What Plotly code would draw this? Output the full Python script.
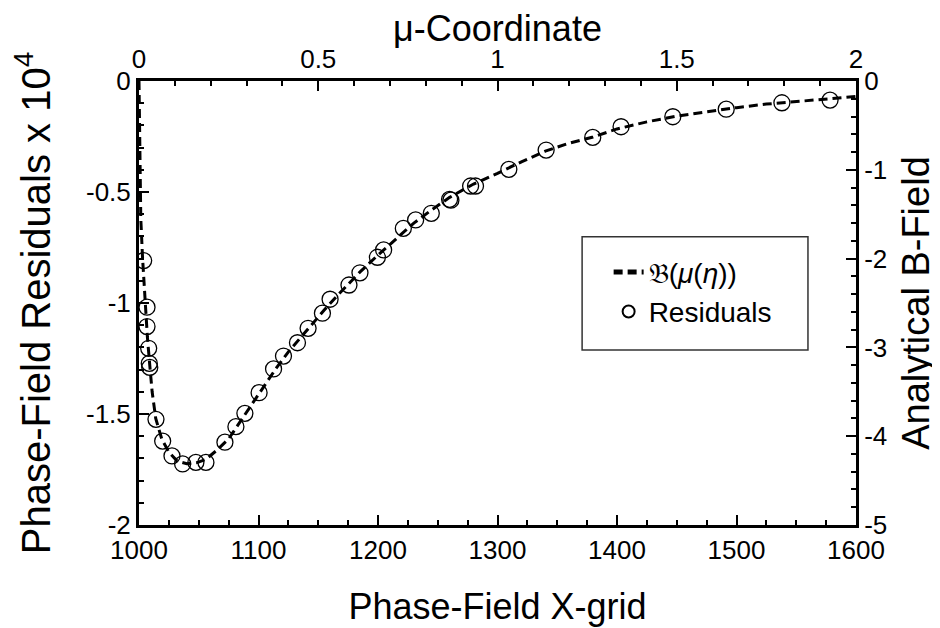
import plotly.graph_objects as go

# ---- data ----
resid_x = [1003.9, 1006.7, 1006.7, 1008.1, 1008.6, 1009.0, 1014.2, 1019.8, 1027.6, 1036.5,
           1047.6, 1056.0, 1071.9, 1081.1, 1088.6, 1100.5, 1112.6, 1120.9, 1132.6, 1141.5,
           1153.5, 1159.9, 1175.7, 1184.9, 1199.5, 1204.7, 1221.2, 1231.5, 1244.6, 1259.9,
           1261.0, 1277.5, 1281.6, 1309.5, 1340.7, 1379.7, 1403.4, 1446.7, 1491.4, 1538.0,
           1578.3]
resid_y = [-0.809, -1.019, -1.106, -1.204, -1.272, -1.29, -1.524, -1.622, -1.689, -1.725,
           -1.718, -1.718, -1.627, -1.557, -1.497, -1.404, -1.297, -1.239, -1.179, -1.114,
           -1.046, -0.983, -0.919, -0.864, -0.794, -0.761, -0.664, -0.626, -0.596, -0.533,
           -0.537, -0.473, -0.473, -0.398, -0.311, -0.254, -0.206, -0.161, -0.127, -0.098,
           -0.086]

bfield_x = [1000, 1000.5, 1001.5, 1003, 1005, 1007, 1009, 1011, 1014, 1019, 1025, 1032,
            1040, 1048, 1056, 1065, 1075, 1085, 1095, 1105, 1115, 1125, 1135, 1145, 1155,
            1165, 1175, 1185, 1200, 1215, 1230, 1245, 1260, 1280, 1300, 1320, 1340, 1360,
            1380, 1400, 1425, 1450, 1475, 1500, 1525, 1550, 1575, 1600]
bfield_y = [0.0, -0.88, -1.55, -2.0, -2.5, -2.88, -3.2, -3.5, -3.8, -4.03, -4.18, -4.28,
            -4.31, -4.3, -4.26, -4.16, -4.03, -3.83, -3.63, -3.43, -3.23, -3.05, -2.89,
            -2.73, -2.58, -2.43, -2.29, -2.15, -1.96, -1.78, -1.6, -1.45, -1.31, -1.16,
            -1.04, -0.91, -0.79, -0.7, -0.63, -0.54, -0.46, -0.395, -0.345, -0.3, -0.26,
            -0.23, -0.205, -0.175]

x_ticks = [1000, 1100, 1200, 1300, 1400, 1500, 1600]
x_ticklabels = ["1000", "1100", "1200", "1300", "1400", "1500", "1600"]
mu_ticks = [0, 0.5, 1, 1.5, 2]
mu_ticklabels = ["0", "0.5", "1", "1.5", "2"]
y_ticks = [-2, -1.5, -1, -0.5, 0]
y_ticklabels = ["-2", "-1.5", "-1", "-0.5", "0"]
b_ticks = [-5, -4, -3, -2, -1, 0]
b_ticklabels = ["-5", "-4", "-3", "-2", "-1", "0"]

FONT = "Liberation Sans, Arial, sans-serif"
TICKF = dict(family=FONT, size=26, color="black")

fig = go.Figure()

fig.add_trace(go.Scatter(
    x=bfield_x, y=bfield_y, xaxis="x", yaxis="y2", mode="lines",
    line=dict(color="black", width=3, dash="9px,5px"),
    name="𝔅(<i>μ</i>(<i>η</i>))",
))
fig.add_trace(go.Scatter(
    x=resid_x, y=resid_y, xaxis="x", yaxis="y", mode="markers",
    marker=dict(symbol="circle-open", size=16, color="black", line=dict(width=1.3, color="black")),
    name="Residuals",
))
# helper trace so the top axis is drawn
fig.add_trace(go.Scatter(x=[0, 2], y=[None, None], xaxis="x2", yaxis="y",
                         mode="markers", showlegend=False, hoverinfo="skip"))

axis_common = dict(showgrid=False, zeroline=False, showline=True, linecolor="black",
                   linewidth=3, ticks="inside", ticklen=10, tickwidth=2, tickcolor="black",
                   tickfont=TICKF, automargin=False)

fig.update_layout(
    width=940, height=628,
    margin=dict(l=131, r=92, t=73, b=111),
    paper_bgcolor="white", plot_bgcolor="white",
    font=dict(family=FONT, color="black"),
    xaxis=dict(range=[1000, 1600], tickvals=x_ticks, ticktext=x_ticklabels,
               title=dict(text="Phase-Field X-grid", font=dict(family=FONT, size=36, color="black"),
                          standoff=30),
               minor=dict(ticks="inside", ticklen=5, tickwidth=1.5, dtick=25, tick0=1000,
                          tickcolor="black"),
               **axis_common),
    xaxis2=dict(range=[0, 2], overlaying="x", side="top", anchor="y",
                tickvals=mu_ticks, ticktext=mu_ticklabels,
                title=dict(text="μ-Coordinate", font=dict(family=FONT, size=36, color="black"),
                           standoff=4),
                minor=dict(ticks="inside", ticklen=5, tickwidth=1.5, dtick=0.1, tick0=0,
                           tickcolor="black"),
                **axis_common),
    yaxis=dict(range=[-2, 0], tickvals=y_ticks, ticktext=y_ticklabels,
               title=dict(text="Phase-Field Residuals x 10<sup>4</sup>",
                          font=dict(family=FONT, size=40, color="black"), standoff=28),
               minor=dict(ticks="inside", ticklen=5, tickwidth=1.5, dtick=0.1, tick0=0,
                          tickcolor="black"),
               **axis_common),
    yaxis2=dict(range=[-5, 0], overlaying="y", side="right", anchor="x",
                tickvals=b_ticks, ticktext=b_ticklabels,
                title=dict(text="Analytical B-Field", font=dict(family=FONT, size=38, color="black"),
                           standoff=17),
                minor=dict(ticks="inside", ticklen=5, tickwidth=1.5, dtick=0.2, tick0=0,
                           tickcolor="black"),
                **axis_common),
    legend=dict(x=0.655, y=0.525, xanchor="left", yanchor="middle",
                bgcolor="rgba(0,0,0,0)", borderwidth=0,
                font=dict(family=FONT, size=28, color="black"),
                itemsizing="constant", tracegroupgap=0),
    shapes=[dict(type="rect", xref="paper", yref="paper", x0=0.618, x1=0.933,
                 y0=0.394, y1=0.649, line=dict(color="#333", width=1.5),
                 fillcolor="white", layer="below")],
)

fig.write_html("out.html")
